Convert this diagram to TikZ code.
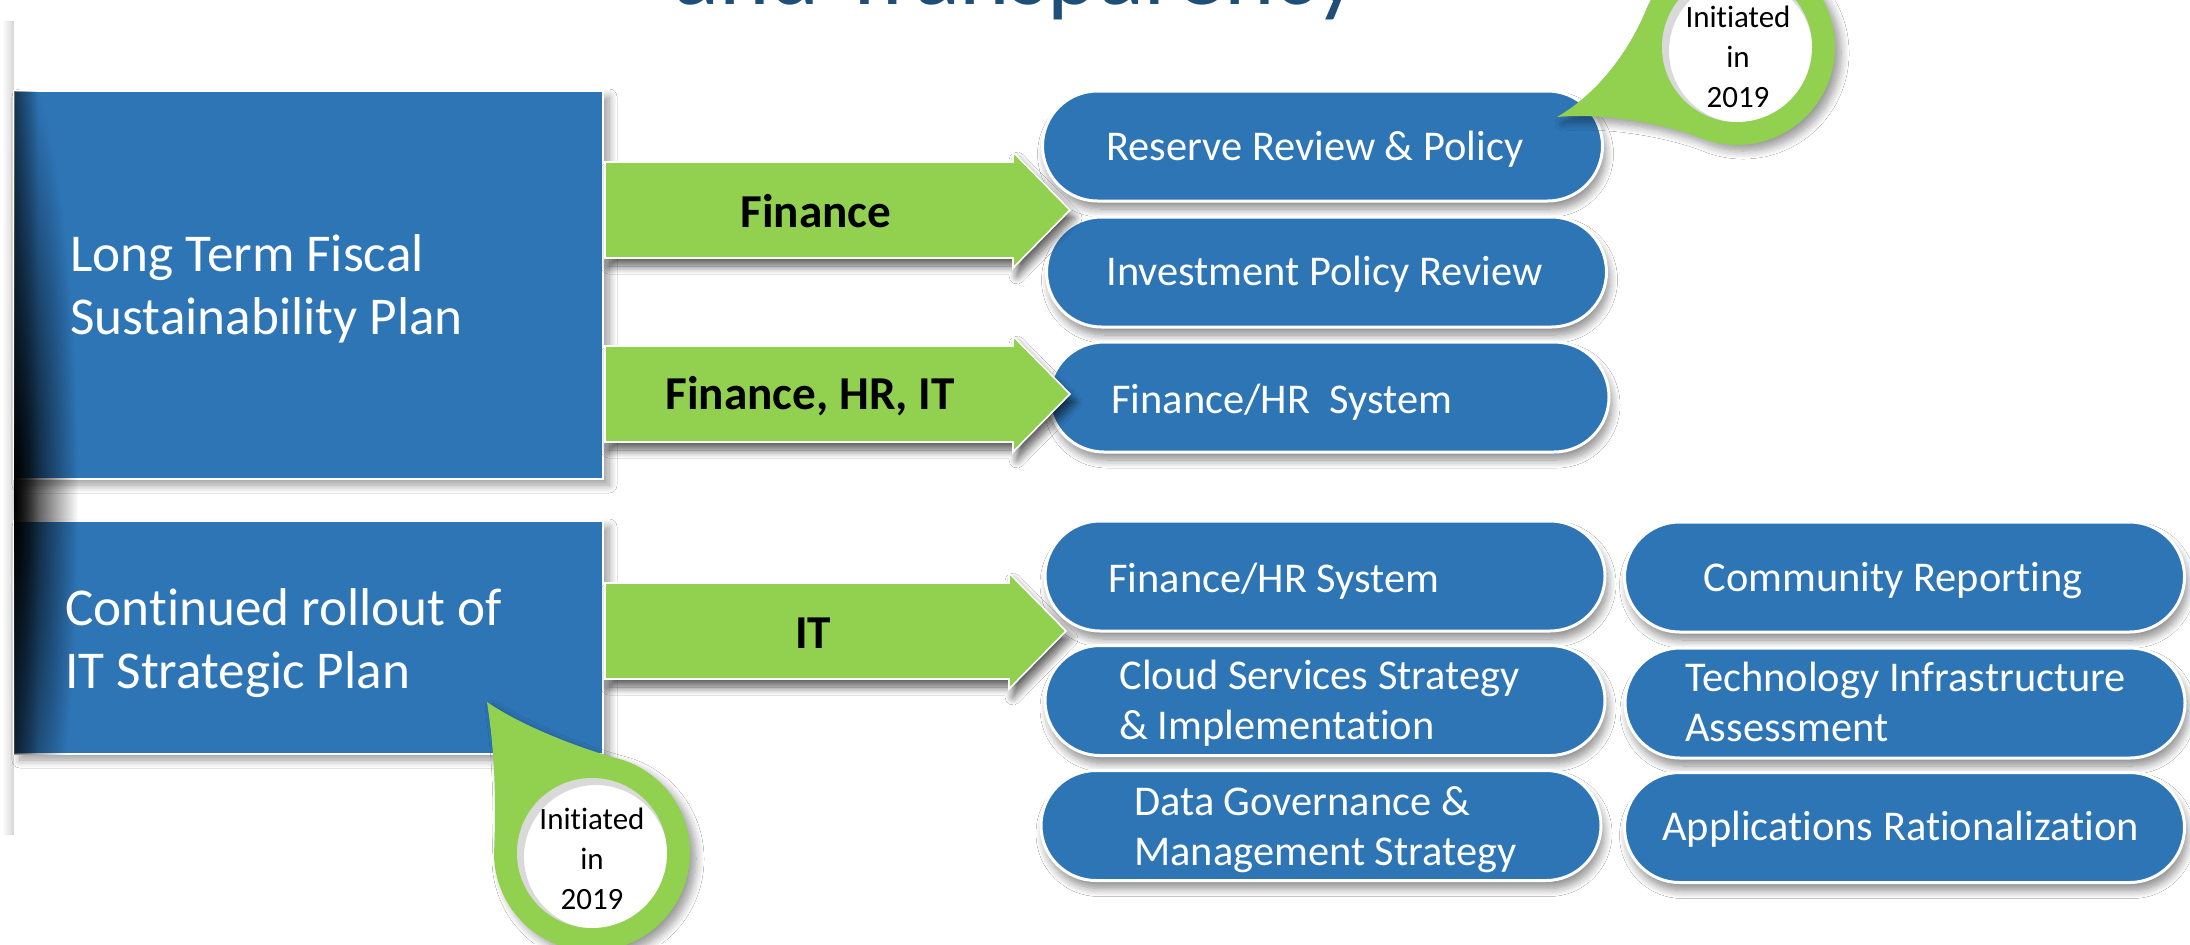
\documentclass[tikz,border=0pt]{standalone}
\usepackage{fontspec}
\setmainfont{Carlito}[Ligatures={NoCommon}]
\usetikzlibrary{calc,shadows,shadows.blur,fadings}
\definecolor{boxblue}{HTML}{2E75B6}
\definecolor{arrowgreen}{HTML}{92D050}
\definecolor{titleblue}{HTML}{1F4E79}
\tikzfading[name=fadetoleft, left color=transparent!100, right color=transparent!0]
\tikzfading[name=fadetoright, left color=transparent!0, right color=transparent!100]
\tikzfading[name=radglow, inner color=transparent!0, outer color=transparent!100]
\newcommand\blockarrow[2]{%
  \path[greenarrow] ($(#1)+(0,-48)$) -- ($(#2)+(-57,-48)$) -- ($(#2)+(-57,-58)$) -- (#2)
    -- ($(#2)+(-57,58)$) -- ($(#2)+(-57,48)$) -- ($(#1)+(0,48)$) -- cycle;}
\begin{document}
\begin{tikzpicture}[x=0.5pt,y=-0.5pt,
  leftbox/.style={rectangle, draw=white, line width=1.2pt, fill=boxblue, inner sep=0pt,
    blur shadow={shadow xshift=3pt, shadow yshift=-3pt, shadow opacity=40, shadow blur steps=10, shadow blur radius=4pt}},
  pill/.style={rectangle, rounded corners=27.5pt, draw=white, line width=1.5pt, fill=boxblue,
    inner sep=0pt, minimum width=280pt, minimum height=55pt,
    blur shadow={shadow xshift=1.5pt, shadow yshift=-4pt, shadow opacity=45, shadow blur steps=10, shadow blur radius=4pt}},
  greenarrow/.style={fill=arrowgreen, draw=white, line width=0.8pt,
    blur shadow={shadow xshift=2pt, shadow yshift=-4pt, shadow opacity=65, shadow blur steps=10, shadow blur radius=4pt}},
  callout/.style={fill=arrowgreen,
    blur shadow={shadow xshift=3pt, shadow yshift=-3pt, shadow opacity=40, shadow blur steps=10, shadow blur radius=4pt}},
  innercircle/.style={circle, fill=white, minimum size=75pt, inner sep=0pt},
  lefttext/.style={text=white, font=\fontsize{26.6}{31.5}\selectfont, anchor=west, inner sep=0pt, align=left},
  pilltext/.style={text=white, font=\fontsize{21.2}{25}\selectfont, anchor=west, inner sep=0pt, align=left},
  arrowtext/.style={text=black, font=\bfseries\fontsize{23.6}{28}\selectfont, inner sep=0pt},
  callouttext/.style={text=black, font=\fontsize{15.5}{20}\selectfont, inner sep=0pt, align=center}
]
\useasboundingbox (0,0) rectangle (2190,944);
\clip (0,0) rectangle (2190,944);
\fill[white] (0,0) rectangle (2190,944);

% faint strip on the left
\fill[black!16, path fading=fadetoleft] (2,20) rectangle (14,835);

% left boxes
\node[leftbox, minimum width=294.5pt, minimum height=194pt] (lt1) at (308.5,285) {};
\node[leftbox, minimum width=294.5pt, minimum height=116.5pt] (lt2) at (308.5,637.5) {};

% dark edge on the left
\begin{scope}
  \clip (14,91) rectangle (80,754);
  \fill[black, opacity=0.5, path fading=fadetoright] (14,91) rectangle (38,754);
  \fill[black, path fading=radglow] (-50,60) rectangle (78,940);
\end{scope}

% pills
\node[pill] (rv) at (1322.5,146) {};
\node[pill] (iv) at (1326.5,272) {};
\node[pill] (fh1) at (1329,397) {};
\node[pill] (fh2) at (1325,576) {};
\node[pill] (cl) at (1325,700.5) {};
\node[pill] (dg) at (1321,825.5) {};
\node[pill] (cr) at (1904.5,577) {};
\node[pill] (ti) at (1905,703) {};
\node[pill] (ar) at (1904.5,827.5) {};

% arrows
\coordinate (a1s) at (605,210); \coordinate (a1t) at (1070,210);
\coordinate (a2s) at (605,394); \coordinate (a2t) at (1070,394);
\coordinate (a3s) at (605,631); \coordinate (a3t) at (1066,631);
\blockarrow{a1s}{a1t}
\blockarrow{a2s}{a2t}
\blockarrow{a3s}{a3t}

% texts
\node[lefttext] (ltx1) at (70,289) {Long Term Fiscal\\Sustainability Plan};
\node[lefttext] (ltx2) at (65,643) {Continued rollout of\\IT Strategic Plan};

\node[arrowtext] (at1) at (816,211) {Finance};
\node[arrowtext] (at2) at (810,396) {Finance, HR, IT};
\node[arrowtext] (at3) at (813,633) {IT};

\node[pilltext] (rvt) at (1106,149) {Reserve Review \& Policy};
\node[pilltext] (ivt) at (1106,274) {Investment Policy Review};
\node[pilltext] (fh1t) at (1111,402) {Finance/HR\ \ System};
\node[pilltext] (fh2t) at (1108,581) {Finance/HR System};
\node[pilltext] (clt) at (1119,703) {Cloud Services Strategy\\\& Implementation};
\node[pilltext] (dgt) at (1134,830) {Data Governance \&\\Management Strategy};
\node[pilltext] (crt) at (1703,581) {Community Reporting};
\node[pilltext] (tit) at (1685,702) {Technology Infrastructure\\Assessment};
\node[pilltext] (art) at (1662,829) {Applications Rationalization};

% callout top right
\coordinate (c1) at (1737,47); \coordinate (t1) at (1557,117);
\path[callout] (t1) .. controls (1610,112) and (1675,127) .. ($(c1)+(110:98)$)
  arc[start angle=110, end angle=-155, radius=98]
  .. controls (1628,55) and (1595,95) .. (t1) -- cycle;
\node[innercircle] (w1) at (c1) {};
\begin{scope}
  \clip (c1) circle[radius=75];
  \draw[black, opacity=0.15, line width=8pt] ($(c1)+(4,4)$) circle[radius=80];
\end{scope}
\node[callouttext] (ct1) at (1738,57) {Initiated\\in\\2019};

% callout bottom
\coordinate (c2) at (592,853); \coordinate (t2) at (487,702);
\path[callout] (t2) .. controls (525,728) and (585,750) .. ($(c2)+(-73:98)$)
  arc[start angle=-73, end angle=180, radius=98]
  .. controls (497,790) and (493,740) .. (t2) -- cycle;
\node[innercircle] (w2) at (c2) {};
\begin{scope}
  \clip (c2) circle[radius=75];
  \draw[black, opacity=0.15, line width=8pt] ($(c2)+(4,4)$) circle[radius=80];
\end{scope}
\node[callouttext] (ct2) at (592,859) {Initiated\\in\\2019};

% title (cut off at top)
\node[text=titleblue, font=\fontsize{48}{56}\selectfont, anchor=base, inner sep=0pt] (title) at (1016,4) {and Transparency};
\end{tikzpicture}
\end{document}
